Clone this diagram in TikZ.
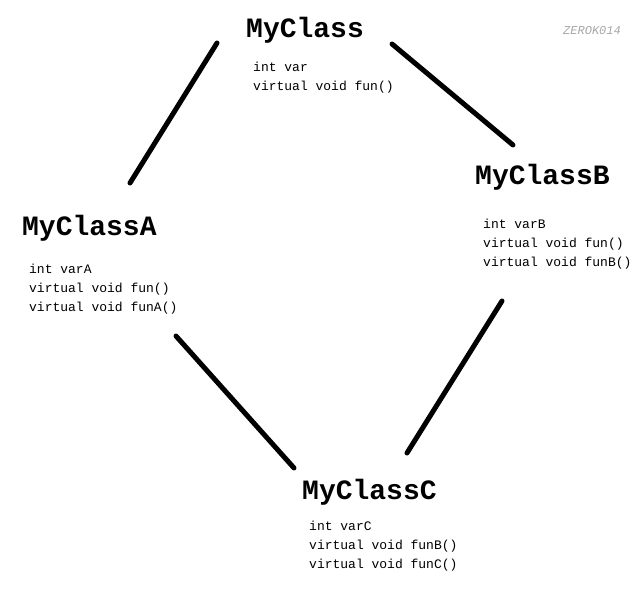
\documentclass[tikz,border=0pt]{standalone}
\usepackage{fontspec}
\newfontfamily\codefont{Liberation Mono}
\usetikzlibrary{positioning}
\begin{document}
\begin{tikzpicture}[x=1pt,y=-1pt,
    classname/.style={anchor=base west,inner sep=0pt,font=\codefont\bfseries\fontsize{28}{30}\selectfont},
    members/.style={anchor=base west,inner sep=0pt,align=left,font=\codefont\fontsize{13}{19}\selectfont},
    link/.style={line width=5pt,line cap=round,black}]
        \useasboundingbox (0,0) rectangle (643,591);

        % class names
        \node[classname] (cls) at (246,38) {MyClass};
        \node[classname] (clsB) at (475,185) {MyClassB};
        \node[classname] (clsA) at (22,236) {MyClassA};
        \node[classname] (clsC) at (302,499) {MyClassC};

        % members (base = last line)
        \node[members] (clsvars) at ([shift={(7,53)}]cls.base west) {int var\\virtual void fun()};
        \node[members] (clsBvars) at ([shift={(8,81)}]clsB.base west) {int varB\\virtual void fun()\\virtual void funB()};
        \node[members] (clsAvars) at ([shift={(7,75)}]clsA.base west) {int varA\\virtual void fun()\\virtual void funA()};
        \node[members] (clsCvars) at ([shift={(7,69)}]clsC.base west) {int varC\\virtual void funB()\\virtual void funC()};

        % inheritance lines
        \draw[link] ([shift={(-29,5)}]cls.base west) -- ([shift={(108,-53)}]clsA.base west);
        \draw[link] ([shift={(28,6)}]cls.base east) -- ([shift={(38,-40)}]clsB.base west);
        \draw[link] ([shift={(154,100)}]clsA.base west) -- ([shift={(-8,-31)}]clsC.base west);
        \draw[link] ([shift={(27,116)}]clsB.base west) -- ([shift={(105,-46)}]clsC.base west);

        % mark
        \node[anchor=base west,inner sep=0pt,text=black!35,font=\codefont\itshape\fontsize{12}{12}\selectfont] (mark) at (563,35) {ZEROK014};
    \end{tikzpicture}
\end{document}
